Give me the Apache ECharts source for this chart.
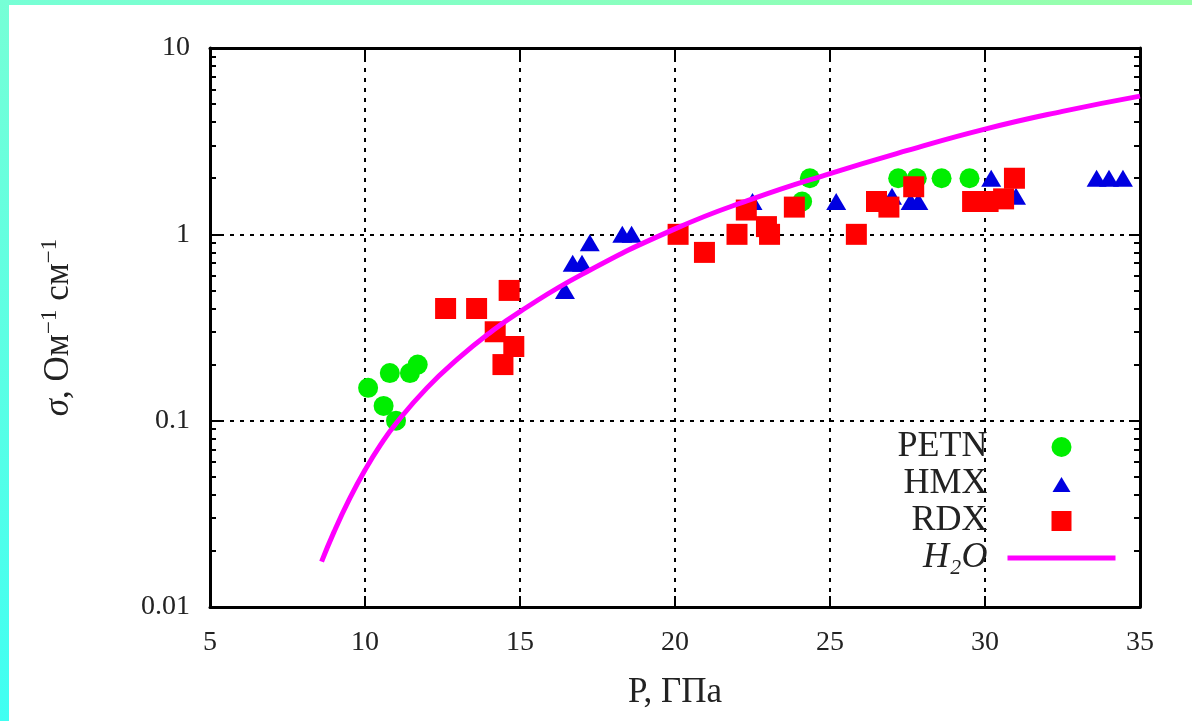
<!DOCTYPE html>
<html>
<head>
<meta charset="utf-8">
<script src="https://cdn.jsdelivr.net/npm/echarts@6/dist/echarts.min.js"></script>
<style>
  html, body { margin: 0; padding: 0; background: #ffffff; }
  #bgTop { position: absolute; left: 0; top: 0; width: 1192px; height: 5px; background: linear-gradient(90deg, #76ffd6, #9affaa); }
  #bgLeft { position: absolute; left: 0; top: 0; width: 9px; height: 721px; background: linear-gradient(180deg, #76ffd6, #40fff2); }
  #chart { position: absolute; left: 0; top: 0; width: 1192px; height: 721px; }
</style>
</head>
<body>
<div id="bgTop"></div>
<div id="bgLeft"></div>
<div id="chart"></div>
<script>
// ---- data ----
const petnP = [10.1, 10.6, 10.8, 11.0, 11.45, 11.7, 24.1, 24.35, 27.2, 27.8, 28.6, 29.5];
const petnS = [0.15, 0.12, 0.18, 0.10, 0.18, 0.20, 1.5, 2.0, 2.0, 2.0, 2.0, 2.0];

const hmxP = [16.45, 16.7, 17.0, 17.25, 18.3, 18.6, 22.5, 25.2, 27.0, 27.6, 27.85, 30.2, 31.0, 33.6, 34.0, 34.45];
const hmxS = [0.5, 0.7, 0.7, 0.9, 1.0, 1.0, 1.5, 1.5, 1.6, 1.5, 1.5, 2.0, 1.6, 2.0, 2.0, 2.0];

const rdxP = [12.6, 13.6, 14.2, 14.45, 14.65, 14.8, 20.1, 20.95, 22.0, 22.3, 22.95, 23.05, 23.85, 25.85, 26.5, 26.9, 27.7, 29.6, 30.1, 30.6, 30.95];
const rdxS = [0.4, 0.4, 0.3, 0.2, 0.5, 0.25, 1.0, 0.8, 1.0, 1.35, 1.1, 1.0, 1.4, 1.0, 1.5, 1.4, 1.8, 1.5, 1.5, 1.55, 2.0];

const h2oP = [8.6, 9, 9.5, 10, 10.5, 11, 12, 13, 14, 15, 17, 20, 22.5, 25, 27.5, 30, 32.5, 35];
const h2oS = [0.0175, 0.0253, 0.038, 0.0543, 0.0741, 0.0966, 0.15, 0.215, 0.294, 0.385, 0.61, 1.07, 1.55, 2.12, 2.82, 3.67, 4.57, 5.52];

const seriesNames = ['PETN', 'HMX', 'RDX', 'H2O'];
const xTicks = [5, 10, 15, 20, 25, 30, 35];
const yTicks = [0.01, 0.1, 1, 10];
const yTickLabels = ['0.01', '0.1', '1', '10'];
const yMinorTicks = [0.02, 0.03, 0.04, 0.05, 0.06, 0.07, 0.08, 0.09,
                     0.2, 0.3, 0.4, 0.5, 0.6, 0.7, 0.8, 0.9,
                     2, 3, 4, 5, 6, 7, 8, 9];

const zip = (a, b) => a.map((v, i) => [v, b[i]]);
const FONT = "'Liberation Serif', 'DejaVu Serif', serif";
const TXT = '#222222';
const MAGENTA = '#ff00ff';

const frameLine = { show: true, onZero: false, lineStyle: { color: '#000', width: 3 } };
const majorTick = { show: true, inside: true, length: 11, lineStyle: { color: '#000', width: 2 } };
const minorTick = { show: true, inside: true, length: 6, lineStyle: { color: '#000', width: 2 }, customValues: yMinorTicks };
const gridDash = { show: true, lineStyle: { color: '#000', width: 2, type: [4, 6] } };

const chart = echarts.init(document.getElementById('chart'), null, { renderer: 'canvas' });

const option = {
  animation: false,
  grid: { left: 210, right: 52, top: 48, bottom: 114, containLabel: false },
  xAxis: [
    {
      type: 'value', min: xTicks[0], max: xTicks[xTicks.length - 1], interval: 5,
      position: 'bottom',
      axisLine: frameLine, axisTick: majorTick,
      axisLabel: { fontSize: 28, color: TXT, fontFamily: FONT, margin: 22 },
      splitLine: gridDash,
      name: 'P, ГПа', nameLocation: 'middle', nameGap: 68,
      nameTextStyle: { fontSize: 35, color: TXT, fontFamily: FONT }
    },
    {
      type: 'value', min: xTicks[0], max: xTicks[xTicks.length - 1], interval: 5,
      position: 'top',
      axisLine: frameLine, axisTick: majorTick,
      axisLabel: { show: false }, splitLine: { show: false }
    }
  ],
  yAxis: [
    {
      type: 'log', logBase: 10, min: yTicks[0], max: yTicks[yTicks.length - 1],
      position: 'left',
      axisLine: frameLine, axisTick: majorTick,
      axisLabel: {
        fontSize: 28, color: TXT, fontFamily: FONT, margin: 20,
        formatter: function (v) {
          const i = yTicks.findIndex(t => Math.abs(Math.log10(t) - Math.log10(v)) < 1e-6);
          return i >= 0 ? yTickLabels[i] : '';
        }
      },
      splitLine: gridDash,
      name: '{i|σ}{t|, Ом}{s|−1}{t| см}{s|−1}',
      nameLocation: 'middle', nameGap: 134,
      nameTextStyle: {
        color: TXT, fontFamily: FONT, fontSize: 35,
        rich: {
          i: { fontStyle: 'italic', fontSize: 35, fontFamily: FONT, color: TXT, lineHeight: 38, verticalAlign: 'bottom' },
          t: { fontSize: 35, fontFamily: FONT, color: TXT, lineHeight: 38, verticalAlign: 'bottom' },
          s: { fontSize: 23, fontFamily: FONT, color: TXT, lineHeight: 24, verticalAlign: 'top' }
        }
      }
    },
    {
      type: 'log', logBase: 10, min: yTicks[0], max: yTicks[yTicks.length - 1],
      position: 'left',
      axisLine: { show: false }, axisTick: minorTick,
      axisLabel: { show: false }, splitLine: { show: false }
    },
    {
      type: 'log', logBase: 10, min: yTicks[0], max: yTicks[yTicks.length - 1],
      position: 'right',
      axisLine: frameLine, axisTick: majorTick,
      axisLabel: { show: false }, splitLine: { show: false }
    },
    {
      type: 'log', logBase: 10, min: yTicks[0], max: yTicks[yTicks.length - 1],
      position: 'right',
      axisLine: { show: false }, axisTick: minorTick,
      axisLabel: { show: false }, splitLine: { show: false }
    }
  ],
  legend: {
    data: [
      { name: seriesNames[0] },
      { name: seriesNames[1], icon: 'path://M0,0 M21,20 M1.5,18 L10.5,3 L19.5,18 Z' },
      { name: seriesNames[2], icon: 'path://M0,0 L21,0 L21,21 L0,21 Z' },
      { name: seriesNames[3], itemStyle: { color: 'rgba(0,0,0,0)', borderWidth: 0, opacity: 0 }, lineStyle: { color: MAGENTA, width: 5 } }
    ],
    orient: 'vertical',
    right: 74, top: 429,
    padding: 0,
    align: 'right',
    symbolKeepAspect: true,
    itemWidth: 108, itemHeight: 20, itemGap: 1,
    formatter: function (name) {
      if (name === 'H2O') return '{i|H₂O}';
      return name;
    },
    textStyle: {
      fontSize: 36, fontFamily: FONT, color: TXT, lineHeight: 30,
      padding: [0, 15, 0, 0],
      rich: {
        i: { fontStyle: 'italic', fontSize: 36, fontFamily: FONT, color: TXT, lineHeight: 30 }
      }
    }
  },
  series: [
    {
      name: 'PETN', type: 'scatter', xAxisIndex: 0, yAxisIndex: 0,
      data: zip(petnP, petnS), symbol: 'circle', symbolSize: 20,
      itemStyle: { color: '#00ee00', opacity: 1 }, z: 2
    },
    {
      name: 'HMX', type: 'scatter', xAxisIndex: 0, yAxisIndex: 0,
      data: zip(hmxP, hmxS), symbol: 'triangle', symbolSize: [20, 17],
      itemStyle: { color: '#0000e0', opacity: 1 }, z: 3
    },
    {
      name: 'RDX', type: 'scatter', xAxisIndex: 0, yAxisIndex: 0,
      data: zip(rdxP, rdxS), symbol: 'rect', symbolSize: 21,
      itemStyle: { color: '#ff0000', opacity: 1 }, z: 4
    },
    {
      name: 'H2O', type: 'line', xAxisIndex: 0, yAxisIndex: 0,
      data: zip(h2oP, h2oS), smooth: true, symbol: 'none', showSymbol: false,
      lineStyle: { color: MAGENTA, width: 5 }, itemStyle: { color: MAGENTA }, z: 5
    }
  ]
};

chart.setOption(option);
</script>
</body>
</html>
